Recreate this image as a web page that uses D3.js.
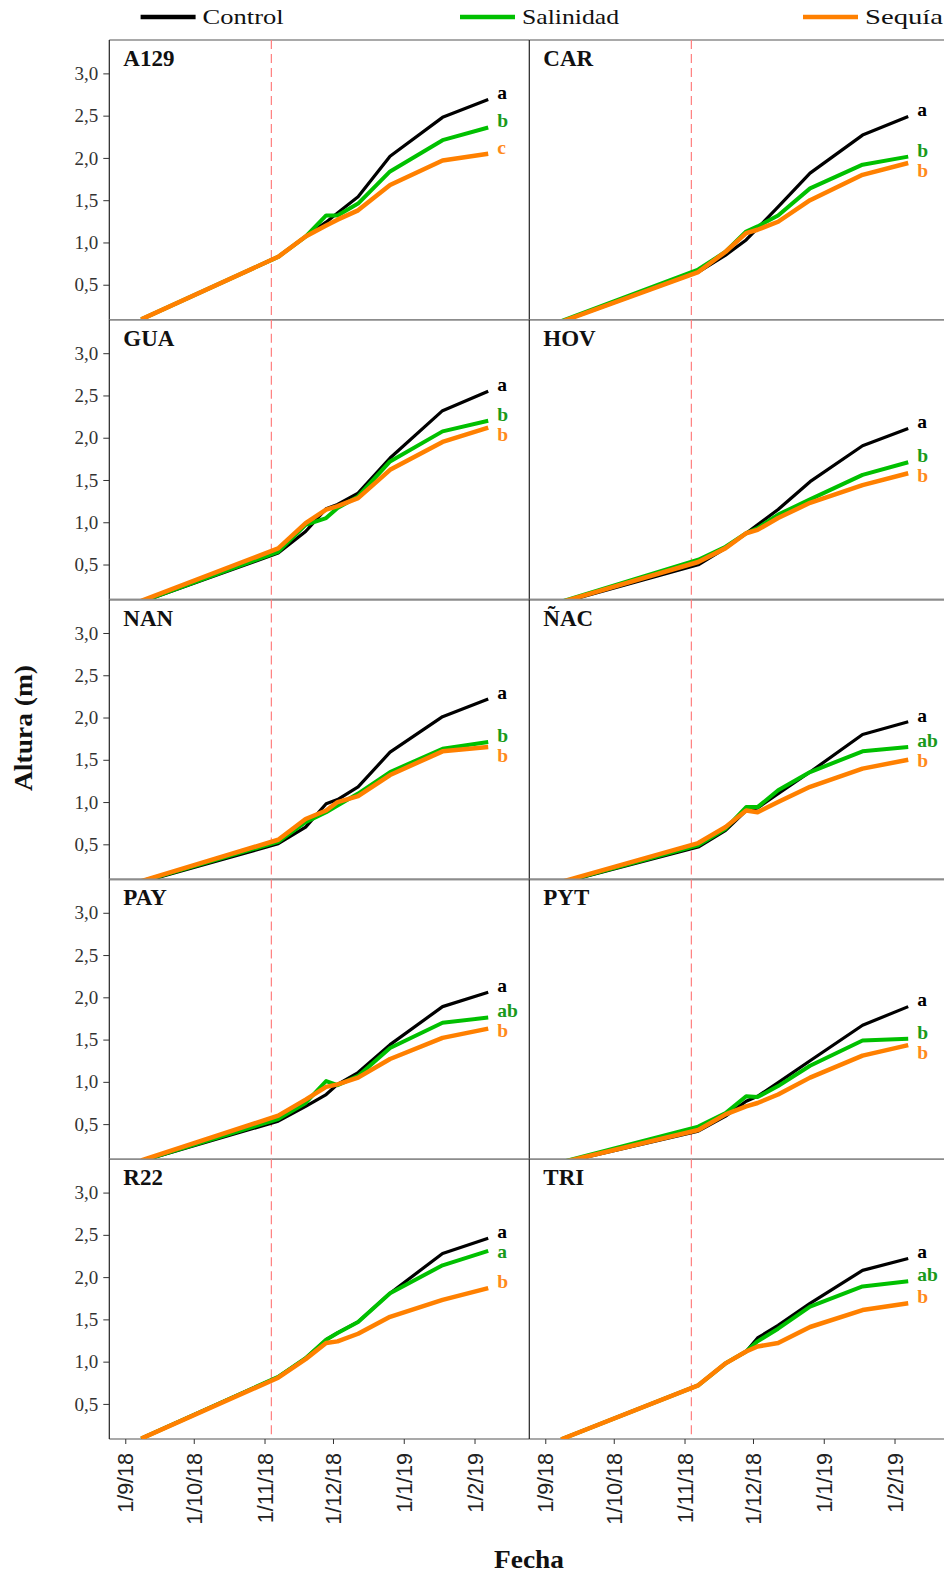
<!DOCTYPE html>
<html><head><meta charset="utf-8">
<script src="https://cdn.jsdelivr.net/npm/d3@7"></script>
<style>body{margin:0;background:#fff}svg{display:block}</style>
</head><body>
<script>
const dates = ["2018-09-08","2018-11-07","2018-11-19","2018-11-28","2018-12-03","2018-12-12","2018-12-26","2019-01-18","2019-02-07"];
const genotypes = ["A129","CAR","GUA","HOV","NAN","ÑAC","PAY","PYT","R22","TRI"];
const seriesNames = ["Control","Salinidad","Sequía"];
const control = [
  [0.09,0.83,1.07,1.24,1.35,1.54,2.02,2.48,2.69],
  [0.061,0.65,0.85,1.03,1.17,1.42,1.82,2.27,2.49],
  [0.056,0.635,0.89,1.16,1.21,1.345,1.76,2.32,2.55],
  [0.049,0.497,0.694,0.87,0.97,1.15,1.48,1.905,2.11],
  [0.052,0.507,0.704,0.98,1.03,1.18,1.59,2.01,2.22],
  [0.045,0.468,0.665,0.90,0.93,1.10,1.355,1.80,1.95],
  [0.062,0.535,0.71,0.85,0.97,1.11,1.44,1.89,2.06],
  [0.041,0.417,0.595,0.77,0.83,0.99,1.25,1.67,1.89],
  [0.09,0.82,1.04,1.26,1.34,1.47,1.81,2.28,2.46],
  [0.082,0.72,0.98,1.12,1.28,1.43,1.69,2.08,2.22]
];
const salinidad = [
  [0.09,0.83,1.07,1.32,1.32,1.46,1.84,2.21,2.36],
  [0.07,0.68,0.89,1.13,1.19,1.32,1.64,1.92,2.015],
  [0.06,0.65,0.97,1.05,1.17,1.305,1.72,2.075,2.20],
  [0.06,0.556,0.71,0.87,0.93,1.09,1.27,1.56,1.71],
  [0.06,0.53,0.763,0.88,0.96,1.10,1.355,1.63,1.71],
  [0.05,0.487,0.685,0.94,0.94,1.14,1.355,1.60,1.65],
  [0.065,0.56,0.75,1.01,0.96,1.07,1.40,1.70,1.76],
  [0.05,0.47,0.63,0.83,0.82,0.95,1.19,1.49,1.51],
  [0.09,0.82,1.04,1.26,1.34,1.47,1.81,2.14,2.31],
  [0.082,0.72,0.98,1.12,1.24,1.39,1.65,1.89,1.95]
];
const sequia = [
  [0.09,0.83,1.07,1.20,1.27,1.38,1.68,1.97,2.05],
  [0.061,0.65,0.89,1.11,1.15,1.245,1.50,1.80,1.94],
  [0.07,0.69,0.99,1.15,1.19,1.285,1.62,1.95,2.12],
  [0.055,0.53,0.694,0.87,0.91,1.05,1.23,1.44,1.58],
  [0.065,0.554,0.80,0.90,1.00,1.07,1.32,1.60,1.65],
  [0.055,0.515,0.705,0.90,0.88,1.00,1.18,1.395,1.50],
  [0.07,0.60,0.79,0.94,0.97,1.05,1.27,1.52,1.63],
  [0.045,0.43,0.615,0.71,0.75,0.85,1.05,1.31,1.435],
  [0.09,0.81,1.03,1.22,1.24,1.33,1.53,1.73,1.87],
  [0.082,0.72,0.98,1.12,1.18,1.22,1.41,1.61,1.69]
];
const lettersControl   = ["a","a","a","a","a","a","a","a","a","a"];
const lettersSalinidad = ["b","b","b","b","b","ab","ab","b","a","ab"];
const lettersSequia    = ["c","b","b","b","b","b","b","b","b","b"];
const yTicks = [0.5,1.0,1.5,2.0,2.5,3.0];
const xTickDates = ["2018-09-01","2018-10-01","2018-11-01","2018-12-01","2019-01-01","2019-02-01"];
const xTickLabels = ["1/9/18","1/10/18","1/11/18","1/12/18","1/1/19","1/2/19"];
const stressDate = "2018-11-04";

const W = 944, H = 1575;
const lineColors = ["#000000","#00c000","#ff8000"];
const letterColors = ["#000000","#1a9a1a","#ff8a1a"];
const lineWidths = [3.2,4,4.5];
const parse = d3.timeParse("%Y-%m-%d");
const colX = [109.3, 529.3], pw = 420, top0 = 40, ph = 279.8;

const svg = d3.select("body").append("svg").attr("width",W).attr("height",H);
const x0 = d3.scaleTime().domain([parse("2018-08-25"), parse("2019-02-25")]).range([0,pw]);
const y = d3.scaleLinear().domain([0.085,3.395]).range([ph,0]);
const serif = "'Liberation Serif', 'DejaVu Serif', serif";

// legend
const legendX = [140.6, 460, 803];
const legendTextLen = [81, 97, 78];
seriesNames.forEach((n,i)=>{
  const g = svg.append("g").attr("transform",`translate(${legendX[i]},17)`);
  g.append("line").attr("x1",0).attr("x2",55).attr("y1",0).attr("y2",0)
    .attr("stroke",lineColors[i]).attr("stroke-width",4.5);
  g.append("text").attr("x",62).attr("y",7).attr("font-family",serif).attr("font-size",22)
    .attr("fill","#111").attr("textLength",legendTextLen[i]).attr("lengthAdjust","spacingAndGlyphs").text(n);
});

const series = [control, salinidad, sequia];
const letters = [lettersControl, lettersSalinidad, lettersSequia];
const line = d3.line().x(d=>x0(d.date)).y(d=>y(d.v));

genotypes.forEach((gname, gi)=>{
  const col = gi%2, row = Math.floor(gi/2);
  const px = colX[col], py = top0 + row*ph;
  const g = svg.append("g").attr("transform",`translate(${px},${py})`);
  const cid = "clip"+gi;
  g.append("clipPath").attr("id",cid).append("rect").attr("x",0).attr("y",0).attr("width",pw).attr("height",ph);
  // frame
  g.append("line").attr("x1",0).attr("x2",pw+(col?20:0)).attr("y1",0).attr("y2",0).attr("stroke","#8c8c8c").attr("stroke-width",1.6);
  g.append("line").attr("x1",0).attr("x2",pw+(col?20:0)).attr("y1",ph).attr("y2",ph).attr("stroke","#8c8c8c").attr("stroke-width",1.6);
  g.append("line").attr("x1",0).attr("x2",0).attr("y1",0).attr("y2",ph).attr("stroke","#222").attr("stroke-width",1.2);
  // dashed
  g.append("line").attr("x1",x0(parse(stressDate))).attr("x2",x0(parse(stressDate))).attr("y1",0).attr("y2",ph)
    .attr("stroke","#ff7f7f").attr("stroke-width",1.2).attr("stroke-dasharray","9,5");
  // y axis
  if(col===0){
    const ax = g.append("g").call(d3.axisLeft(y).tickValues(yTicks).tickSize(6).tickSizeOuter(0)
      .tickFormat(d=>d.toFixed(1).replace(".",",")));
    ax.select(".domain").remove();
    ax.selectAll("line").attr("stroke","#333");
    ax.selectAll("text").attr("font-family",serif).attr("font-size",19).attr("fill","#333").attr("x",-11);
  }
  // x axis
  if(row===4){
    const ax = g.append("g").attr("transform",`translate(0,${ph})`)
      .call(d3.axisBottom(x0).tickValues(xTickDates.map(parse)).tickSize(5).tickSizeOuter(0)
        .tickFormat((d,i)=>xTickLabels[i]));
    ax.select(".domain").remove();
    ax.selectAll("line").attr("stroke","#333");
    ax.selectAll("text").attr("font-family","'Liberation Sans', Arial, sans-serif").attr("font-size",21.5)
      .attr("fill","#222").attr("transform","rotate(-90)").attr("x",-14).attr("y",0).attr("dy","0.35em")
      .style("text-anchor","end");
  }
  // lines
  const lg = g.append("g").attr("clip-path",`url(#${cid})`);
  const ends = [];
  series.forEach((s,si)=>{
    const pts = s[gi].map((v,k)=>({date:parse(dates[k]), v}));
    lg.append("path").datum(pts).attr("d",line).attr("fill","none")
      .attr("stroke",lineColors[si]).attr("stroke-width",lineWidths[si]).attr("stroke-linejoin","round");
    ends.push(y(pts[pts.length-1].v)-6);
  });
  // letters with push-down
  for(let k=1;k<3;k++){ if(ends[k]<ends[k-1]+20) ends[k]=ends[k-1]+20; }
  const lx = x0(parse(dates[dates.length-1]))+9;
  series.forEach((s,si)=>{
    g.append("text").attr("x",lx).attr("y",ends[si]).attr("dy","0.3em")
      .attr("font-family",serif).attr("font-weight","bold").attr("font-size",19.5)
      .attr("fill",letterColors[si]).text(letters[si][gi]);
  });
  // title
  g.append("text").attr("x",14).attr("y",26).attr("font-family",serif).attr("font-weight","bold")
    .attr("font-size",23).attr("fill","#111").text(gname);
});

// axis titles
svg.append("text").attr("transform","translate(32,728) rotate(-90)").attr("text-anchor","middle")
  .attr("font-family",serif).attr("font-weight","bold").attr("font-size",25).attr("fill","#111")
  .attr("textLength",126).attr("lengthAdjust","spacingAndGlyphs").text("Altura (m)");
svg.append("text").attr("x",529).attr("y",1568).attr("text-anchor","middle")
  .attr("font-family",serif).attr("font-weight","bold").attr("font-size",25).attr("fill","#111")
  .attr("textLength",70).attr("lengthAdjust","spacingAndGlyphs").text("Fecha");
</script>
</body></html>
